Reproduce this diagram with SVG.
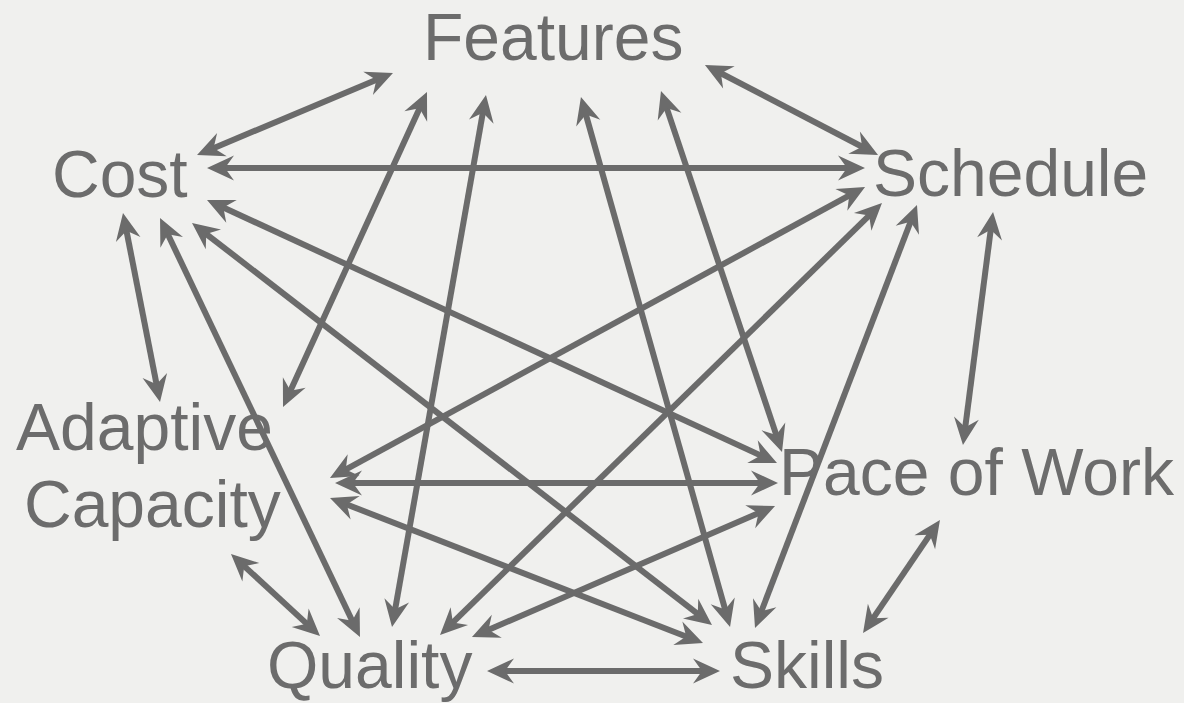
<svg xmlns="http://www.w3.org/2000/svg" width="1184" height="703" viewBox="0 0 1184 703">
<style>
.lbl{font-family:"Liberation Sans",Arial,Helvetica,sans-serif;font-size:66px;fill:#6c6c6c}
.c line{stroke:#6b6b6b;stroke-width:6;fill:none;marker-start:url(#ah);marker-end:url(#ah)}
</style>
<defs>
<marker id="ah" markerUnits="userSpaceOnUse" markerWidth="60" markerHeight="60" refX="0" refY="0" orient="auto-start-reverse" overflow="visible">
<path d="M12,0 L-15,-12.5 L-6,0 L-15,12.5 Z" fill="#6b6b6b"/>
</marker>
</defs>
<rect width="1184" height="703" fill="#f0f0ee"/>
<g class="c" id="connectors">
<line x1="208.1" y1="150.4" x2="381.9" y2="77.6"/>
<line x1="219" y1="168" x2="853" y2="168"/>
<line x1="715.6" y1="70.5" x2="867.4" y2="149.5"/>
<line x1="125.3" y1="224.8" x2="157.7" y2="390.2"/>
<line x1="422" y1="102.9" x2="288" y2="396.1"/>
<line x1="483.9" y1="106.8" x2="394.1" y2="615.2"/>
<line x1="584.2" y1="108.6" x2="726.8" y2="615.4"/>
<line x1="664.8" y1="102.4" x2="778.2" y2="440.6"/>
<line x1="217.9" y1="205" x2="766.1" y2="458"/>
<line x1="201.5" y1="230.3" x2="702.5" y2="617.7"/>
<line x1="165.2" y1="228.8" x2="354.8" y2="626.2"/>
<line x1="854.5" y1="192.7" x2="340.5" y2="472.3"/>
<line x1="873.4" y1="211.4" x2="448.6" y2="626.6"/>
<line x1="912.7" y1="216.2" x2="759.3" y2="616.8"/>
<line x1="991.5" y1="223.9" x2="964.5" y2="433.1"/>
<line x1="347" y1="483" x2="766" y2="483"/>
<line x1="341.2" y1="502.3" x2="691.8" y2="638.7"/>
<line x1="764" y1="510.8" x2="483" y2="632.2"/>
<line x1="933.2" y1="529.9" x2="869.8" y2="623.1"/>
<line x1="239.8" y1="562.1" x2="311.2" y2="627.9"/>
<line x1="499" y1="671" x2="708" y2="671"/>
</g>
<g id="features"><text class="lbl" x="423" y="60">Features</text></g>
<g id="cost"><text class="lbl" x="52" y="197">Cost</text></g>
<g id="schedule"><text class="lbl" x="873" y="196">Schedule</text></g>
<g id="adaptive"><text class="lbl" x="16" y="450">Adaptive</text><text class="lbl" x="24" y="527">Capacity</text></g>
<g id="pace"><text class="lbl" x="779" y="495">Pace of Work</text></g>
<g id="quality"><text class="lbl" x="267" y="688">Quality</text></g>
<g id="skills"><text class="lbl" x="730" y="688">Skills</text></g>
</svg>
